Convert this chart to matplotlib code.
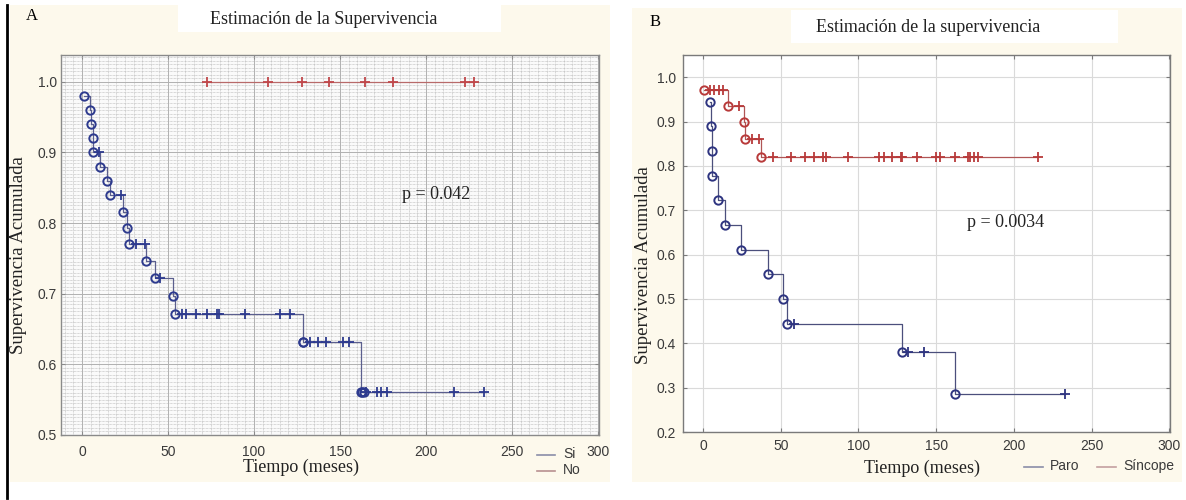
import numpy as np
import matplotlib
matplotlib.use('Agg')
import matplotlib.pyplot as plt
from matplotlib.patches import Rectangle
from matplotlib.lines import Line2D
from matplotlib.ticker import MultipleLocator

# ---- panel A data (Si / No) ----
si_event_t = [1, 4.4, 5.2, 6.2, 6.6, 10.2, 14.5, 16.5, 23.6, 26.1, 27.1, 37.4, 42.2, 52.9, 54.2,
              128.2, 128.7, 162, 163, 164]
si_event_s = [0.98, 0.96, 0.94, 0.92, 0.90, 0.88, 0.86, 0.84, 0.816, 0.793, 0.770, 0.746, 0.722, 0.697, 0.671,
              0.632, 0.632, 0.561, 0.561, 0.561]
si_cens_t = [9.7, 22.5, 31.5, 36.6, 45.5, 58.2, 60.4, 66.4, 72.6, 78.3, 79.7, 94.9, 114.9, 120.9,
             132.7, 137.1, 141.6, 151.6, 155, 165, 171.6, 173.9, 177.2, 216.2, 233.9]
si_cens_s = [0.90, 0.84, 0.770, 0.770, 0.722, 0.671, 0.671, 0.671, 0.671, 0.671, 0.671, 0.671, 0.671, 0.671,
             0.632, 0.632, 0.632, 0.632, 0.632, 0.561, 0.561, 0.561, 0.561, 0.561, 0.561]
no_cens_t = [72.7, 108.3, 127.6, 143.5, 164.5, 180.6, 222.4, 227.8]
no_cens_s = [1.0, 1.0, 1.0, 1.0, 1.0, 1.0, 1.0, 1.0]

# ---- panel B data (Paro / Sincope) ----
paro_event_t = [4.4, 5.3, 5.8, 6.0, 9.9, 14.2, 24.3, 42.0, 51.7, 54.0, 127.8, 162.3]
paro_event_s = [0.944, 0.889, 0.833, 0.778, 0.722, 0.667, 0.611, 0.556, 0.500, 0.444, 0.381, 0.286]
paro_cens_t = [58.3, 131.9, 142.2, 233.2]
paro_cens_s = [0.444, 0.381, 0.381, 0.286]
sin_event_t = [0.4, 16.3, 26.1, 26.8, 37.3]
sin_event_s = [0.970, 0.935, 0.899, 0.860, 0.819]
sin_cens_t = [4.3, 7.3, 10.0, 12.9, 23.4, 31.5, 36.3,
              45.3, 56.6, 65.5, 71.7, 77.5, 78.9, 93.4, 113.1, 116.3, 121.5, 127.1, 127.8,
              137.7, 150.0, 152.8, 162.0, 170.4, 172.1, 174.5, 176.9, 215.4]
sin_cens_s = [0.970, 0.970, 0.970, 0.970, 0.935, 0.860, 0.860] + [0.819] * 21

W, H = 1186, 500
fig = plt.figure(figsize=(W / 100, H / 100), dpi=100)
fig.patch.set_facecolor('white')

def px(x, y):
    return x / W, 1 - y / H

cream = '#fdf9ec'
fig.patches.append(Rectangle(px(10, 482), 600 / W, 477 / H, transform=fig.transFigure,
                             facecolor=cream, edgecolor='none', zorder=-5))
fig.patches.append(Rectangle(px(632, 482), 550 / W, 474 / H, transform=fig.transFigure,
                             facecolor=cream, edgecolor='none', zorder=-5))
fig.patches.append(Rectangle(px(178, 32), 323 / W, 27 / H, transform=fig.transFigure,
                             facecolor='white', edgecolor='none', zorder=-4))
fig.patches.append(Rectangle(px(791, 43), 327 / W, 33 / H, transform=fig.transFigure,
                             facecolor='white', edgecolor='none', zorder=-4))
fig.lines.append(Line2D([7 / W, 7 / W], [1 - 5 / H, 1 - 498 / H], transform=fig.transFigure,
                        color='black', lw=2))

serif = ['Liberation Serif', 'DejaVu Serif']
sans = ['Liberation Sans', 'DejaVu Sans']
tick_col = '#3a3a3a'


def km(ax, ev_t, ev_s, ce_t, ce_s, line_col, mark_col):
    t = list(ev_t) + [max(ce_t)]
    s = list(ev_s) + [ev_s[-1]]
    ax.step(t, s, where='post', color=line_col, lw=0.9, zorder=3)
    ax.plot(ev_t, ev_s, 'o', ms=6, mfc='none', mec=mark_col, mew=1.4, zorder=4)
    ax.plot(ce_t, ce_s, '+', ms=7, mec=mark_col, mew=1.3, zorder=4)


def style(ax, col):
    for sp in ax.spines.values():
        sp.set_color(col)
        sp.set_linewidth(1.0)
    ax.tick_params(direction='in', top=True, right=True, length=3, color=col,
                   labelcolor=tick_col, labelsize=10)
    for lab in ax.get_xticklabels() + ax.get_yticklabels():
        lab.set_family(sans)


# ---------- Panel A ----------
axA = fig.add_axes([61 / W, 1 - 435 / H, 538 / W, 380 / H])
axA.set_facecolor('#fafafa')
axA.set_xlim(-12.2, 300.5)
axA.set_ylim(0.5, 1.038)
axA.set_xticks([0, 50, 100, 150, 200, 250, 300])
axA.set_yticks([0.5, 0.6, 0.7, 0.8, 0.9, 1.0])
axA.set_yticklabels(['0.5', '0.6', '0.7', '0.8', '0.9', '1.0'])
axA.xaxis.set_minor_locator(MultipleLocator(5))
axA.yaxis.set_minor_locator(MultipleLocator(0.005))
axA.tick_params(which='minor', length=0)
axA.grid(which='minor', color='#b4b4b4', lw=0.5, ls=(0, (1, 1)))
axA.grid(which='major', color='#b0b0b0', lw=0.7, ls='-')
axA.set_axisbelow(True)
style(axA, '#8a8a8a')
axA.tick_params(axis='x', pad=7)
axA.tick_params(axis='y', pad=3)

km(axA, si_event_t, si_event_s, si_cens_t, si_cens_s, '#5b5f8e', '#2d3a8e')
axA.plot([no_cens_t[0], no_cens_t[-1]], [1.0, 1.0], color='#b86a6a', lw=0.9, zorder=3)
axA.plot(no_cens_t, no_cens_s, '+', ms=7, mec='#c0474a', mew=1.3, zorder=4)
axA.text(206, 0.841, 'p = 0.042', family=serif, fontsize=13, ha='center', va='center', color='#222222')

fig.text(*px(32, 16), 'A', family=serif, fontsize=12, ha='center', va='center')
fig.text(*px(324, 20), 'Estimación de la Supervivencia', family=serif, fontsize=13,
         ha='center', va='center', color='#222222')
fig.text(*px(301, 467), 'Tiempo (meses)', family=serif, fontsize=13, ha='center', va='center',
         color='#222222')
fig.text(*px(19, 255), 'Supervivencia Acumulada', family=serif, fontsize=13.5, rotation=90,
         ha='center', va='center', color='#222222')
for yy, lab, col in [(455, 'Si', '#8a8ea8'), (471, 'No', '#b89090')]:
    fig.lines.append(Line2D([537 / W, 555 / W], [1 - yy / H, 1 - yy / H], transform=fig.transFigure,
                            color=col, lw=1.2))
    fig.text(*px(563, yy - 1), lab, family=sans, fontsize=10, ha='left', va='center', color=tick_col)

# ---------- Panel B ----------
axB = fig.add_axes([683 / W, 1 - 432 / H, 487 / W, 377 / H])
axB.set_facecolor('white')
axB.set_xlim(-12.9, 300.5)
axB.set_ylim(0.2, 1.05)
axB.set_xticks([0, 50, 100, 150, 200, 250, 300])
axB.set_yticks([0.2, 0.3, 0.4, 0.5, 0.6, 0.7, 0.8, 0.9, 1.0])
axB.set_yticklabels(['0.2', '0.3', '0.4', '0.5', '0.6', '0.7', '0.8', '0.9', '1.0'])
axB.grid(which='major', color='#dadada', lw=0.8, ls='-')
axB.set_axisbelow(True)
style(axB, '#7a7a7a')
axB.tick_params(axis='x', pad=5)
axB.tick_params(axis='y', pad=5)

km(axB, paro_event_t, paro_event_s, paro_cens_t, paro_cens_s, '#4b4f7c', '#2e3480')
km(axB, sin_event_t, sin_event_s, sin_cens_t, sin_cens_s, '#b05555', '#b83a3a')
axB.text(194.7, 0.673, 'p = 0.0034', family=serif, fontsize=13, ha='center', va='center', color='#222222')

fig.text(*px(655, 22), 'B', family=serif, fontsize=12, ha='center', va='center')
fig.text(*px(928, 27), 'Estimación de la supervivencia', family=serif, fontsize=13,
         ha='center', va='center', color='#222222')
fig.text(*px(922, 468), 'Tiempo (meses)', family=serif, fontsize=13, ha='center', va='center',
         color='#222222')
fig.text(*px(643, 265), 'Supervivencia Acumulada', family=serif, fontsize=13.5, rotation=90,
         ha='center', va='center', color='#222222')
for x0, lab, col in [(1024, 'Paro', '#8a8ea8'), (1097, 'Síncope', '#c4a0a0')]:
    fig.lines.append(Line2D([x0 / W, (x0 + 19) / W], [1 - 467 / H, 1 - 467 / H],
                            transform=fig.transFigure, color=col, lw=1.2))
    fig.text(*px(x0 + 26, 466), lab, family=sans, fontsize=10, ha='left', va='center', color=tick_col)

fig.savefig('out.png', dpi=100, facecolor=fig.get_facecolor())
